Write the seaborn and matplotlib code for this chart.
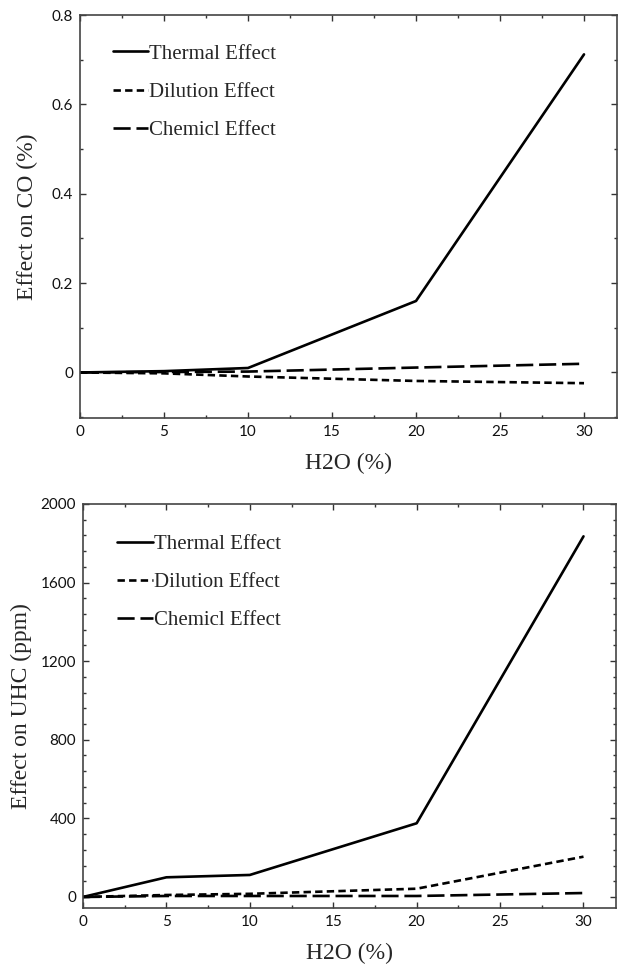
import matplotlib
matplotlib.use("Agg")
import matplotlib.pyplot as plt
import seaborn as sns
import pandas as pd
from matplotlib.ticker import MultipleLocator, FuncFormatter

# ---- data ----
h2o = [0, 5, 10, 20, 30]
co_thermal = [0.0, 0.003, 0.01, 0.16, 0.712]
co_dilution = [0.0, -0.002, -0.009, -0.019, -0.024]
co_chemical = [0.0, 0.001, 0.002, 0.011, 0.0195]
uhc_thermal = [0, 100, 112, 375, 1835]
uhc_dilution = [0, 10, 16, 42, 205]
uhc_chemical = [0, 5, 5, 5, 20]
series_names = ["Thermal Effect", "Dilution Effect", "Chemicl Effect"]

sns.set_theme(style="ticks")
plt.rcParams["font.family"] = ["Liberation Serif", "DejaVu Serif"]

fig = plt.figure(figsize=(6.22, 9.65), dpi=100)
ax1 = fig.add_axes([0.1286, 0.5668, 0.863, 0.4176])
ax2 = fig.add_axes([0.1334, 0.0591, 0.857, 0.4187])

dash_styles = {
    "Thermal Effect": "",
    "Dilution Effect": (2.8, 1.6),
    "Chemicl Effect": (6.5, 2.2),
}

def draw(ax, vals, ylabel, ylim, ymajor, yminor, fmt, legend_anchor, ylabelpad):
    df = pd.DataFrame({
        "x": h2o * 3,
        "y": vals[0] + vals[1] + vals[2],
        "s": [series_names[0]] * 5 + [series_names[1]] * 5 + [series_names[2]] * 5,
    })
    sns.lineplot(data=df, x="x", y="y", hue="s", style="s",
                 palette=["black"] * 3, dashes=dash_styles,
                 linewidth=1.9, ax=ax, legend=True)
    ax.set_xlim(0, 31.95)
    ax.set_ylim(*ylim)
    ax.xaxis.set_major_locator(MultipleLocator(5))
    ax.xaxis.set_minor_locator(MultipleLocator(2.5))
    ax.yaxis.set_major_locator(MultipleLocator(ymajor))
    ax.yaxis.set_minor_locator(MultipleLocator(yminor))
    ax.yaxis.set_major_formatter(FuncFormatter(fmt))
    ax.xaxis.set_major_formatter(FuncFormatter(lambda v, p: f"{v:g}"))
    ax.tick_params(which="both", direction="in", top=True, right=True,
                   color="#333333", width=1.0)
    ax.tick_params(which="major", length=4, pad=5)
    ax.tick_params(which="minor", length=2.5)
    for lab in ax.get_xticklabels() + ax.get_yticklabels():
        lab.set_family(["Lato", "DejaVu Sans"])
        lab.set_fontsize(11)
        lab.set_color("#111111")
    for sp in ax.spines.values():
        sp.set_color("#444444")
        sp.set_linewidth(1.2)
    ax.set_xlabel("H2O (%)", fontsize=17, labelpad=10)
    ax.set_ylabel(ylabel, fontsize=17, labelpad=ylabelpad)
    handles, labels = ax.get_legend_handles_labels()
    ax.legend(handles, labels, loc="upper left", bbox_to_anchor=legend_anchor,
              frameon=False, fontsize=15, handlelength=1.7, handletextpad=0.05,
              labelspacing=0.9, borderpad=0, borderaxespad=0)

draw(ax1, [co_thermal, co_dilution, co_chemical], "Effect on CO (%)",
     (-0.102, 0.8), 0.2, 0.1, lambda v, p: "0" if abs(v) < 1e-9 else f"{v:.1f}",
     (0.061, 0.928), 10)
draw(ax2, [uhc_thermal, uhc_dilution, uhc_chemical], "Effect on UHC (ppm)",
     (-56, 2000), 400, 80, lambda v, p: f"{v:.0f}",
     (0.064, 0.925), 6)

fig.savefig("out.png", dpi=100)
